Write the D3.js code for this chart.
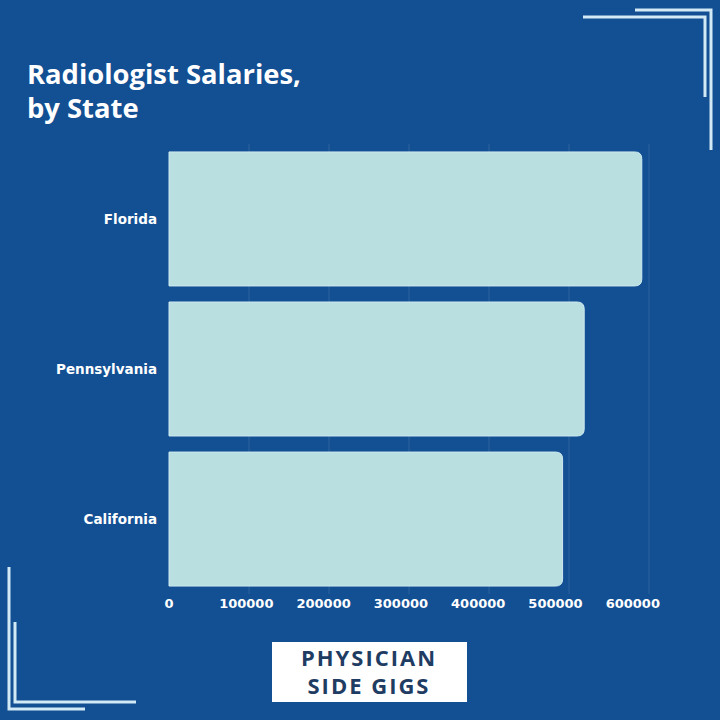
<!DOCTYPE html>
<meta charset="utf-8">
<title>Radiologist Salaries, by State</title>
<style>
body { margin: 0; background: #134f93; }
svg { display: block; }
.tick-label, .cat-label {
  font-family: "DejaVu Sans", sans-serif;
  font-weight: bold;
  fill: #fff;
}
</style>
<svg width="720" height="720"></svg>
<script src="https://cdn.jsdelivr.net/npm/d3@7"></script>
<script>

// data
var states = ["Florida", "Pennsylvania", "California"];
var salaries = [591000, 519000, 492000];
var tickValues = [0, 100000, 200000, 300000, 400000, 500000, 600000];

var svg = d3.select("svg"),
    width = +svg.attr("width"),
    height = +svg.attr("height");

var margin = {top: 144, right: 71, bottom: 126, left: 169};

svg.append("rect")
    .attr("width", width)
    .attr("height", height)
    .attr("fill", "#134f93");

var x = d3.scaleLinear()
    .domain([0, 600000])
    .range([margin.left, width - margin.right]);

var y = d3.scaleBand()
    .domain(states)
    .range([margin.top, height - margin.bottom])
    .paddingInner(0.107)
    .paddingOuter(0.053);

// faint vertical grid
svg.append("g")
  .selectAll("line")
  .data(tickValues.slice(1))
  .enter().append("line")
    .attr("x1", function(d) { return x(d); })
    .attr("x2", function(d) { return x(d); })
    .attr("y1", margin.top)
    .attr("y2", height - margin.bottom)
    .attr("stroke", "rgba(255,255,255,0.12)")
    .attr("stroke-width", 1);

// bars, rounded on the right end only
var r = 7;
function barPath(d, i) {
  var x0 = x(0), x1 = x(salaries[i]), y0 = y(d), y1 = y(d) + y.bandwidth();
  return "M" + x0 + "," + y0 +
    "H" + (x1 - r) +
    "Q" + x1 + "," + y0 + " " + x1 + "," + (y0 + r) +
    "V" + (y1 - r) +
    "Q" + x1 + "," + y1 + " " + (x1 - r) + "," + y1 +
    "H" + x0 + "Z";
}

svg.append("g")
  .selectAll("path")
  .data(states)
  .enter().append("path")
    .attr("d", barPath)
    .attr("fill", "#b9dfe0")
    .attr("stroke", "#cdeaf0")
    .attr("stroke-width", 1);

// category labels
svg.append("g")
  .selectAll("text")
  .data(states)
  .enter().append("text")
    .attr("class", "cat-label")
    .attr("x", margin.left - 12)
    .attr("y", function(d) { return y(d) + y.bandwidth() / 2; })
    .attr("dy", "0.35em")
    .attr("text-anchor", "end")
    .style("font-size", "13.5px")
    .text(function(d) { return d; });

// x axis labels
svg.append("g")
  .selectAll("text")
  .data(tickValues)
  .enter().append("text")
    .attr("class", "tick-label")
    .attr("x", function(d, i) { return x(d) - i * 2.7; })
    .attr("y", 608)
    .attr("text-anchor", "middle")
    .style("font-size", "13px")
    .text(function(d) { return d; });

// title
var title = svg.append("text")
    .attr("x", 27)
    .attr("y", 84)
    .attr("fill", "#fff")
    .style("font-family", "'Open Sans', sans-serif")
    .style("font-weight", 700)
    .style("font-size", "28px");
title.append("tspan").attr("x", 27).text("Radiologist Salaries,");
title.append("tspan").attr("x", 27).attr("dy", 34).text("by State");

// fit title width to the reference
var tw = title.select("tspan").node().getComputedTextLength();
title.style("font-size", (28 * 274 / tw) + "px");

// corner brackets
var bracket = "#d2eaf6";
var corners = [
  [[635, 10], [711, 10], [711, 150]],
  [[583, 17], [705, 17], [705, 97]],
  [[9, 567], [9, 709], [85, 709]],
  [[15, 622], [15, 702], [136, 702]]
];
svg.append("g")
  .selectAll("path")
  .data(corners)
  .enter().append("path")
    .attr("d", d3.line())
    .attr("fill", "none")
    .attr("stroke", bracket)
    .attr("stroke-width", 3);

// logo box
svg.append("rect")
    .attr("x", 272)
    .attr("y", 642)
    .attr("width", 195)
    .attr("height", 60)
    .attr("fill", "#fff");

var logo = svg.append("text")
    .attr("text-anchor", "middle")
    .attr("fill", "#1f3c63")
    .style("font-family", "'Open Sans', sans-serif")
    .style("font-weight", 700)
    .style("font-size", "22px")
    .style("letter-spacing", "2px");
logo.append("tspan").attr("x", 369).attr("y", 666).text("PHYSICIAN");
logo.append("tspan").attr("x", 369).attr("y", 694).text("SIDE GIGS");

</script>
